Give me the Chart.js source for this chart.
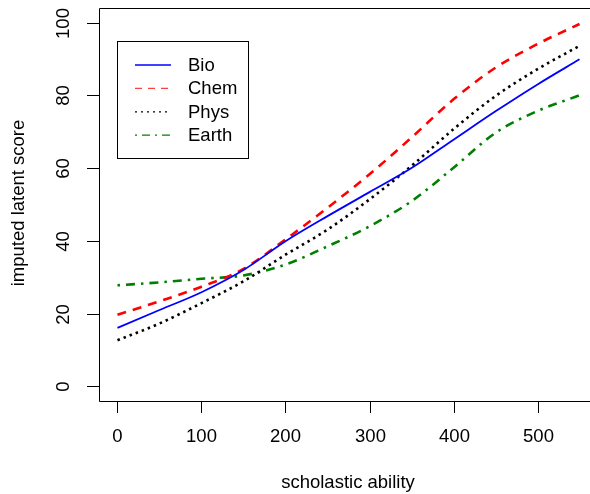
<!DOCTYPE html>
<html>
<head>
<meta charset="utf-8">
<script src="https://cdn.jsdelivr.net/npm/chart.js@4.4.1/dist/chart.umd.min.js"></script>
<style>
  html, body { margin: 0; padding: 0; overflow: hidden; background: #fff; width: 590px; height: 494px; }
  #wrap { width: 610px; height: 494px; }
  #chart { width: 610px; height: 494px; display: block; }
</style>
</head>
<body>
<div id="wrap"><canvas id="chart" width="610" height="494"></canvas></div>
<script>
// scholastic ability (x) and imputed latent score per subject
const ability = [0, 50, 100, 150, 200, 250, 300, 350, 400, 450, 500, 550];
const bio   = [16.1, 21.0, 25.9, 32.0, 39.9, 46.8, 53.4, 60.0, 67.8, 75.6, 83.0, 89.9];
const chem  = [19.7, 23.4, 27.4, 32.3, 40.4, 49.1, 58.3, 68.4, 78.9, 87.6, 94.1, 99.6];
const phys  = [12.7, 17.3, 22.9, 28.9, 36.2, 43.1, 51.4, 60.6, 70.7, 79.8, 87.2, 93.6];
const earth = [27.8, 28.6, 29.6, 30.5, 33.5, 38.5, 44.0, 50.9, 60.1, 69.7, 75.7, 80.0];

const xTicks = [0, 100, 200, 300, 400, 500];
const yTicks = [0, 20, 40, 60, 80, 100];

const FONT = '18.5px "Liberation Sans", Arial, sans-serif';

function pts(ys) {
    return ability.map((x, i) => ({ x: x, y: ys[i] }));
}

// R style axes, box and legend drawn on top of the chart area
const rAxes = {
    id: 'rAxes',
    afterDraw(chart) {
        const ctx = chart.ctx;
        const a = chart.chartArea;
        const xs = chart.scales.x;
        const ys = chart.scales.y;
        ctx.save();
        ctx.strokeStyle = '#000';
        ctx.fillStyle = '#000';
        ctx.lineWidth = 1;
        ctx.setLineDash([]);
        // box: the right side lies past the visible window
        ctx.beginPath();
        ctx.moveTo(chart.width, a.top + 0.5);
        ctx.lineTo(a.left + 0.5, a.top + 0.5);
        ctx.lineTo(a.left + 0.5, a.bottom + 0.5);
        ctx.lineTo(chart.width, a.bottom + 0.5);
        ctx.stroke();

        ctx.font = FONT;
        ctx.textAlign = 'center';
        ctx.textBaseline = 'middle';
        xTicks.forEach(v => {
            const px = Math.round(xs.getPixelForValue(v)) + 0.5;
            ctx.beginPath();
            ctx.moveTo(px, a.bottom);
            ctx.lineTo(px, a.bottom + 12);
            ctx.stroke();
            ctx.fillText(String(v), px, 437);
        });
        yTicks.forEach(v => {
            const py = Math.round(ys.getPixelForValue(v)) + 0.5;
            ctx.beginPath();
            ctx.moveTo(a.left, py);
            ctx.lineTo(a.left - 12, py);
            ctx.stroke();
            ctx.save();
            ctx.translate(64, py);
            ctx.rotate(-Math.PI / 2);
            ctx.fillText(String(v), 0, 0);
            ctx.restore();
        });

        // axis titles
        ctx.fillText('scholastic ability', 348, 483);
        ctx.save();
        ctx.translate(19, 203);
        ctx.rotate(-Math.PI / 2);
        ctx.fillText('imputed latent score', 0, 0);
        ctx.restore();

        // legend
        ctx.strokeRect(117.5, 41.5, 131, 117);
        ctx.textAlign = 'left';
        chart.data.datasets.forEach((ds, i) => {
            const y = 65 + i * 23.4;
            ctx.save();
            ctx.strokeStyle = ds.legendColor;
            ctx.lineWidth = 1.3;
            ctx.setLineDash(ds.legendDash);
            ctx.beginPath();
            ctx.moveTo(135, y);
            ctx.lineTo(171, y);
            ctx.stroke();
            ctx.restore();
            ctx.fillText(ds.label, 188, y + 1);
        });
        ctx.restore();
    }
};

new Chart(document.getElementById('chart'), {
    type: 'line',
    data: {
        datasets: [{
            label: 'Bio',
            data: pts(bio),
            borderColor: '#0000ff',
            borderWidth: 1.8,
            legendColor: '#0000ff',
            legendDash: []
        }, {
            label: 'Chem',
            data: pts(chem),
            borderColor: '#ff0000',
            borderWidth: 2.6,
            borderDash: [9, 7],
            legendColor: '#ff4040',
            legendDash: [7, 6]
        }, {
            label: 'Phys',
            data: pts(phys),
            borderColor: '#000000',
            borderWidth: 2.6,
            borderDash: [2.5, 4],
            legendColor: '#000000',
            legendDash: [2, 4]
        }, {
            label: 'Earth',
            data: pts(earth),
            borderColor: '#008000',
            borderWidth: 2.6,
            borderDash: [2.5, 6, 9, 6],
            legendColor: '#008000',
            legendDash: [2, 5, 8, 5]
        }]
    },
    options: {
        responsive: false,
        animation: false,
        layout: {
            padding: { left: 99, right: 12, top: 8, bottom: 93 }
        },
        elements: {
            point: { radius: 0 },
            line: { tension: 0.4, cubicInterpolationMode: 'monotone', fill: false }
        },
        scales: {
            x: { type: 'linear', min: -22, max: 572, display: false },
            y: { type: 'linear', min: -4, max: 104, display: false }
        },
        plugins: {
            legend: { display: false },
            tooltip: { enabled: false }
        }
    },
    plugins: [rAxes]
});
</script>
</body>
</html>
